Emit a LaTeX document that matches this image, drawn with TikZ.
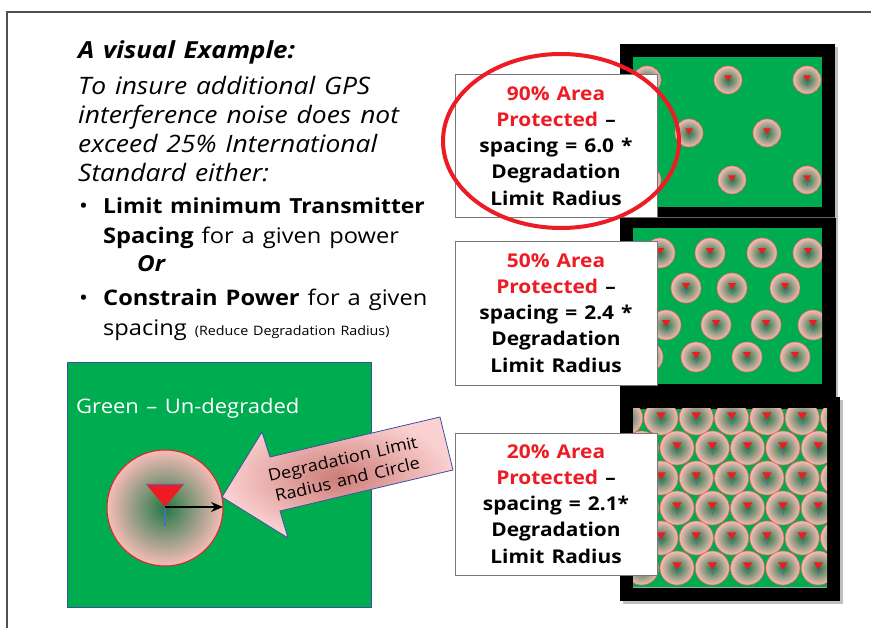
\documentclass[tikz,border=0pt]{standalone}
\usepackage{fontspec}
\setmainfont[FakeStretch=1.1, WordSpace=1.3]{Open Sans}
\usetikzlibrary{arrows.meta}
\definecolor{grn}{RGB}{0,172,80}
\definecolor{dkg}{RGB}{35,120,70}
\definecolor{pinkc}{RGB}{246,188,184}
\definecolor{redt}{RGB}{237,28,36}
\definecolor{stemb}{RGB}{70,110,190}
\definecolor{salm}{RGB}{232,105,85}
\definecolor{framegray}{RGB}{80,80,80}
\definecolor{boxgray}{RGB}{120,120,120}
\definecolor{arrowblue}{RGB}{60,80,160}
\definecolor{arrdark}{RGB}{205,125,120}
\definecolor{arrlight}{RGB}{250,208,208}
\newcommand{\txm}[3]{%
  \shade[inner color=dkg, outer color=pinkc] (#1,#2) circle (#3);
  \draw[salm, line width=0.6] (#1,#2) circle (#3);
  \fill[redt] (#1-0.28*#3,#2-0.33*#3) -- (#1+0.28*#3,#2-0.33*#3) -- (#1,#2+0.1*#3) -- cycle;
  \draw[stemb, line width=0.8] (#1,#2+0.08*#3) -- (#1,#2+0.42*#3);
}
\tikzset{
  bodytxt/.style={anchor=base west, inner sep=0pt, font=\fontsize{21.5}{26}\selectfont},
  italtxt/.style={bodytxt, font=\fontsize{24}{28}\selectfont\itshape},
  infobox/.style={draw=boxgray, line width=0.8pt, fill=white},
  infotxt/.style={align=center, inner sep=0pt, font=\fontsize{19}{26.2}\selectfont\bfseries},
  panelblack/.style={fill=black},
}
\begin{document}
\begin{tikzpicture}[x=1pt,y=-1pt]
\useasboundingbox (0,0) rectangle (871,628);
\fill[white] (0,0) rectangle (871,628);
% frame
\draw[framegray, line width=1.5pt] (7,628) -- (7,12) -- (871,12);

% left text
\node[bodytxt, font=\fontsize{23.5}{28}\selectfont\bfseries\itshape] (title) at (78,59) {A visual Example:};
\node[italtxt] (l1) at (78,95) {To insure additional GPS};
\node[italtxt] (l2) at (78,124) {interference noise does not};
\node[italtxt] (l3) at (78,153) {exceed 25\% International};
\node[italtxt] (l4) at (78,182) {Standard either:};
\node[bodytxt] (bul1) at (79,214) {•};
\node[bodytxt, font=\fontsize{20.8}{26}\selectfont] (l5) at (103,214) {\bfseries Limit minimum Transmitter};
\node[bodytxt] (l6) at (103,244) {\bfseries Spacing\mdseries{} for a given power};
\node[bodytxt, font=\fontsize{22}{26}\selectfont\bfseries\itshape] (l7) at (137,272) {Or};
\node[bodytxt] (bul2) at (79,306) {•};
\node[bodytxt] (l8) at (103,306) {\bfseries Constrain Power\mdseries{} for a given};
\node[bodytxt] (l9) at (103,336) {spacing {\fontsize{13}{15}\selectfont (Reduce Degradation Radius)}};

% left green box
\fill[grn] (67,362) rectangle (371,607);
\draw[arrowblue, line width=0.6pt] (67,362) rectangle (371,607);
\node[bodytxt, text=white, font=\fontsize{20}{24}\selectfont] (gtxt) at (76,414) {Green – Un-degraded};
\shade[inner color=dkg, outer color=pinkc] (165,508) circle (58);
\draw[redt, line width=1pt] (165,508) circle (58);
\coordinate (tip) at (165,507);
\coordinate (edge) at (223,507);
\fill[redt] (146,484) -- (184,484) -- (tip) -- cycle;
\draw[stemb, line width=0.7pt] (146,484) -- (184,484);
\draw[stemb, line width=2pt] (tip) -- (165,526);
\draw[black, line width=1.6pt, -{Stealth[length=12pt,width=10pt]}] (tip) -- (edge);

% pink arrow
\shade[inner color=arrdark, outer color=arrlight]
  (222,497) -- (262,432) -- (270,457) -- (440,417) -- (453,470) -- (280,511) -- (288,538) -- cycle;
\draw[arrowblue, line width=0.8pt]
  (222,497) -- (262,432) -- (270,457) -- (440,417) -- (453,470) -- (280,511) -- (288,538) -- cycle;
\node[rotate=13, align=center, inner sep=0pt, font=\fontsize{16.5}{21}\selectfont] (arrtxt) at (345,469) {Degradation Limit\\Radius and Circle};

% panels: shadows
\fill[black!25] (623,47) rectangle (838,400);
\fill[black!25] (623,400) rectangle (843,604);
\fill[panelblack] (620,44) rectangle (835,218);
\fill[panelblack] (620,218) rectangle (836,397);
\fill[panelblack] (620,397) rectangle (840,601);
\draw[black!60, line width=0.8pt] (620,217.5) -- (835,217.5);
\fill[grn] (633,57) rectangle (822,207);
\fill[grn] (633,228) rectangle (822,384);
\fill[grn] (633,409) rectangle (827,587);

\begin{scope}
\clip (633,57) rectangle (822,207);
\foreach \x/\y in {647/80,728/80,807/80,689/133,767/133,647/180,732/180,807/180}
  {\txm{\x}{\y}{14}}
\end{scope}
\begin{scope}
\clip (633,228) rectangle (822,384);
\foreach \x/\y in {660/253,710/253,762/253,808/253,636/288,686/288,732/288,785/288,666/325,716/325,766/325,813/325,648/357,696/357,747/357,795/357}
  {\txm{\x}{\y}{15}}
\end{scope}
\begin{scope}
\clip (633,409) rectangle (827,587);
\foreach \r in {0,2,4} {
  \foreach \k in {-1,...,5} {
    \pgfmathsetmacro{\cx}{661+35.3*\k}
    \pgfmathsetmacro{\cy}{418+30*\r}
    \txm{\cx}{\cy}{17}
  }
}
\foreach \r in {1,3,5} {
  \foreach \k in {-1,...,5} {
    \pgfmathsetmacro{\cx}{677+35.3*\k}
    \pgfmathsetmacro{\cy}{418+30*\r}
    \txm{\cx}{\cy}{17}
  }
}
\end{scope}
\draw[black!35, line width=1pt] (633,587) -- (827,587);

% info boxes
\draw[infobox] (455,74) rectangle (657,217);
\draw[infobox] (455,241) rectangle (657,385);
\draw[infobox] (455,433) rectangle (657,575);
\node[infotxt] (t1) at (556,146) {\textcolor{redt}{90\% Area}\\\textcolor{redt}{Protected} –\\spacing = 6.0 *\\Degradation\\Limit Radius};
\node[infotxt] (t2) at (556,313) {\textcolor{redt}{50\% Area}\\\textcolor{redt}{Protected} –\\spacing = 2.4 *\\Degradation\\Limit Radius};
\node[infotxt] (t3) at (556,504) {\textcolor{redt}{20\% Area}\\\textcolor{redt}{Protected} –\\spacing = 2.1*\\Degradation\\Limit Radius};

% red ellipse
\draw[redt, line width=4pt] (561,141) ellipse [x radius=118, y radius=87];
\end{tikzpicture}
\end{document}
